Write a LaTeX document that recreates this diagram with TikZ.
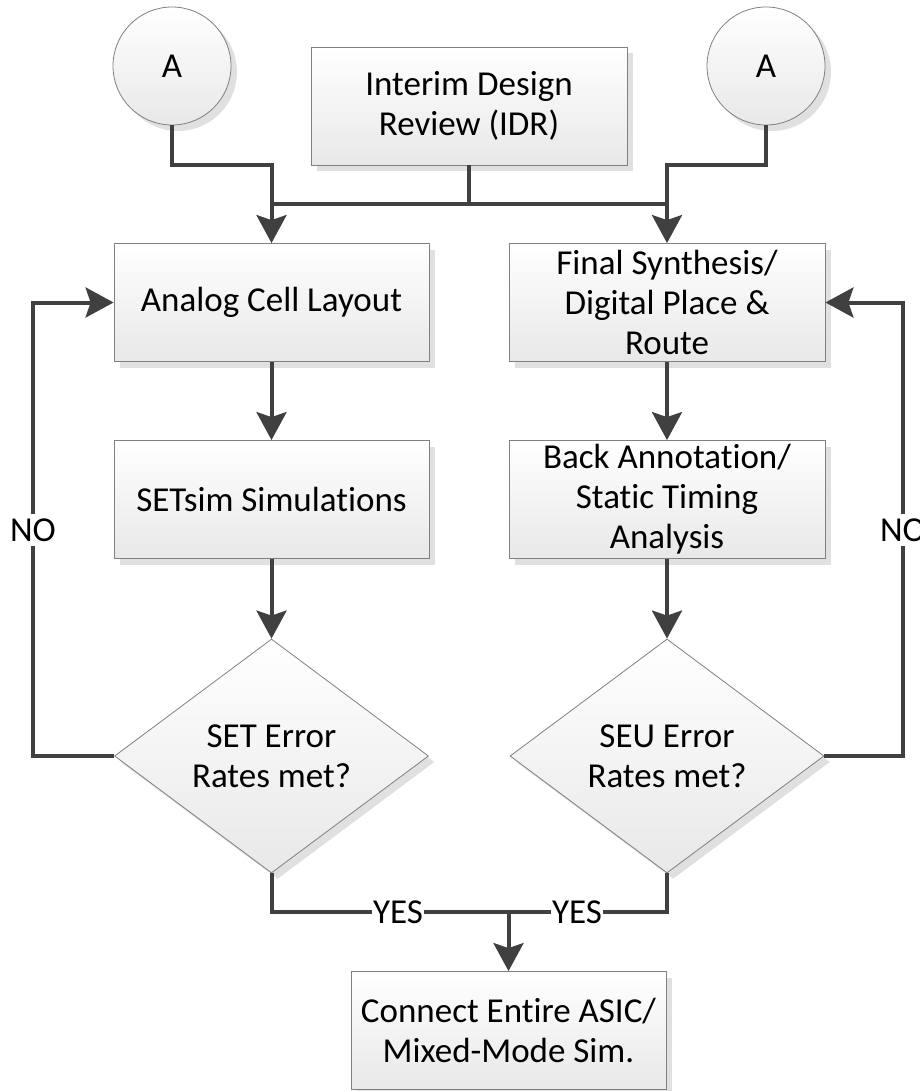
\documentclass[tikz,border=0pt]{standalone}
\usepackage{fontspec}
\setmainfont[Ligatures=NoCommon, Contextuals=NoAlternate]{Carlito}
\usetikzlibrary{shapes.geometric,shadows,arrows.meta}
\begin{document}
\begin{tikzpicture}[x=1pt,y=-1pt,
  font=\fontsize{35}{40}\selectfont,
  every node/.style={inner sep=0pt, align=center},
  shaded/.style={draw=black!50, line width=0.8pt, top color=white, bottom color=black!9,
    drop shadow={shadow xshift=6pt, shadow yshift=-6pt, fill=black!12, opacity=1}},
  procbox/.style={shaded, rectangle, minimum width=315pt, minimum height=118pt},
  decision/.style={shaded, diamond, aspect=1.34, minimum width=314pt, minimum height=234pt},
  connector/.style={shaded, circle, minimum size=118pt},
  link/.style={draw=black!75, line width=4pt},
  flow/.style={link, -{Stealth[length=28pt, width=30pt, inset=5pt]}},
  lbl/.style={fill=white, inner sep=2pt}
]
\useasboundingbox (0,0) rectangle (919,1091);

% off-page connectors and review
\node[connector] (circL) at (172,66) {A};
\node[connector] (circR) at (766,66) {A};
\node[procbox, minimum width=316pt] (idr) at (469,106) {Interim Design\\Review (IDR)};

% analog branch
\node[procbox] (analog) at (271.5,302.5) {Analog Cell Layout};
\node[procbox] (setsim) at (271.5,499.5) {SETsim Simulations};
\node[decision] (dset) at (271.5,756) {SET Error\\Rates met?};

% digital branch
\node[procbox, minimum width=316pt] (final) at (667,302.5) {Final Synthesis/\\Digital Place \&\\Route};
\node[procbox, minimum width=316pt] (back) at (667,499.5) {Back Annotation/\\Static Timing\\Analysis};
\node[decision] (dseu) at (667,756) {SEU Error\\Rates met?};

% merge
\node[procbox] (asic) at (508.5,1030.5) {Connect Entire ASIC/\\Mixed-Mode Sim.};

% routing points
\coordinate (kL) at (271.5,165);
\coordinate (kR) at (667,165);
\coordinate (busL) at (271.5,204);
\coordinate (busR) at (667,204);
\coordinate (idrJ) at (469,204);
\coordinate (noL) at (33,756);
\coordinate (noR) at (903,756);
\coordinate (yesL) at (271.5,912);
\coordinate (yesR) at (667,912);
\coordinate (yesM) at (508.5,912);

% top connections
\draw[link] (idr.south) -- (idrJ);
\draw[link] (busL) -- (busR);
\draw[flow] (circL.south) |- (kL) -- (analog.north);
\draw[flow] (circR.south) |- (kR) -- (final.north);

% straight flow
\draw[flow] (analog) -- (setsim);
\draw[flow] (setsim) -- (dset);
\draw[flow] (final) -- (back);
\draw[flow] (back) -- (dseu);

% NO loops
\draw[flow] (dset.west) -- (noL) |- (analog.west);
\draw[flow] (dseu.east) -- (noR) |- (final.east);
\node[lbl, inner ysep=5pt] (noLl) at (33,530) {NO};
\node[lbl, inner ysep=5pt] (noRl) at (903,530) {NO};

% YES merge
\draw[link] (dset.south) -- (yesL) -- (yesR) -- (dseu.south);
\draw[flow] (yesM) -- (asic.north);
\node[lbl, inner xsep=1pt] (yesLl) at (398,912) {YES};
\node[lbl, inner xsep=1pt] (yesRl) at (577,912) {YES};
\end{tikzpicture}
\end{document}
